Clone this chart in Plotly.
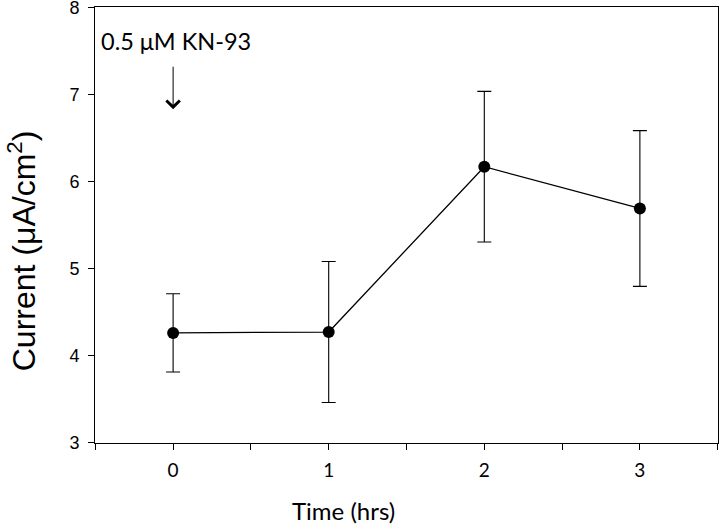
import plotly.graph_objects as go

time_hrs = [0, 1, 2, 3]
current = [4.26, 4.27, 6.17, 5.69]
err = [0.45, 0.81, 0.865, 0.895]
xtick_vals = [-0.5, 0, 0.5, 1, 1.5, 2, 2.5, 3, 3.5]
xtick_text = ["", "0", "", "1", "", "2", "", "3", ""]
ytick_vals = [3, 4, 5, 6, 7, 8]

SANS = "Lato, 'Open Sans', sans-serif"
ARIAL = "'Liberation Sans', Arial, sans-serif"

fig = go.Figure()
fig.add_trace(go.Scatter(
    x=time_hrs, y=current, mode="lines+markers",
    line=dict(color="black", width=1.3),
    marker=dict(color="black", size=12),
    error_y=dict(type="data", array=err, color="black", thickness=1.1, width=7),
    showlegend=False,
))

fig.add_annotation(x=0, y=6.83, xref="x", yref="y", ax=0, ay=-44,
                   text="", showarrow=True, arrowhead=4, arrowsize=2.6,
                   arrowwidth=1, arrowcolor="black")
fig.add_annotation(x=0.02, y=7.61, xref="x", yref="y", text="0.5 μM KN-93",
                   showarrow=False, font=dict(size=23.5, color="black", family=SANS))
fig.add_annotation(x=0.399, y=-0.155, xref="paper", yref="paper", text="Time (hrs)",
                   showarrow=False, xanchor="center", yanchor="middle",
                   font=dict(size=24, color="black", family=SANS))
fig.add_annotation(x=-0.117, y=0.44, xref="paper", yref="paper",
                   text="Current (μA/cm<sup>2</sup>)", textangle=-90,
                   showarrow=False, xanchor="center", yanchor="middle",
                   font=dict(size=32, color="black", family=ARIAL))

fig.update_layout(
    width=720, height=528,
    margin=dict(l=95, r=2, t=7, b=85),
    plot_bgcolor="white", paper_bgcolor="white",
    font=dict(family=SANS, color="black"),
)
fig.update_xaxes(
    range=[-0.502, 3.502], tickmode="array", tickvals=xtick_vals, ticktext=xtick_text,
    ticks="outside", ticklen=6, tickcolor="black", tickwidth=1,
    showline=True, linecolor="black", linewidth=1, mirror=True,
    showgrid=False, zeroline=False, automargin=False, ticklabeloverflow="allow",
    ticklabelstandoff=4,
    tickfont=dict(size=19, family=SANS),
)
fig.update_yaxes(
    range=[2.995, 8.005], tickmode="array", tickvals=ytick_vals,
    ticks="outside", ticklen=6, tickcolor="black", tickwidth=1,
    showline=True, linecolor="black", linewidth=1, mirror=True,
    showgrid=False, zeroline=False, automargin=False, ticklabeloverflow="allow",
    ticklabelstandoff=5,
    tickfont=dict(size=18, family=ARIAL),
)

fig.write_html("out.html", config={"displayModeBar": False},
               post_script="document.body.style.margin='0';document.body.style.overflow='hidden';")
